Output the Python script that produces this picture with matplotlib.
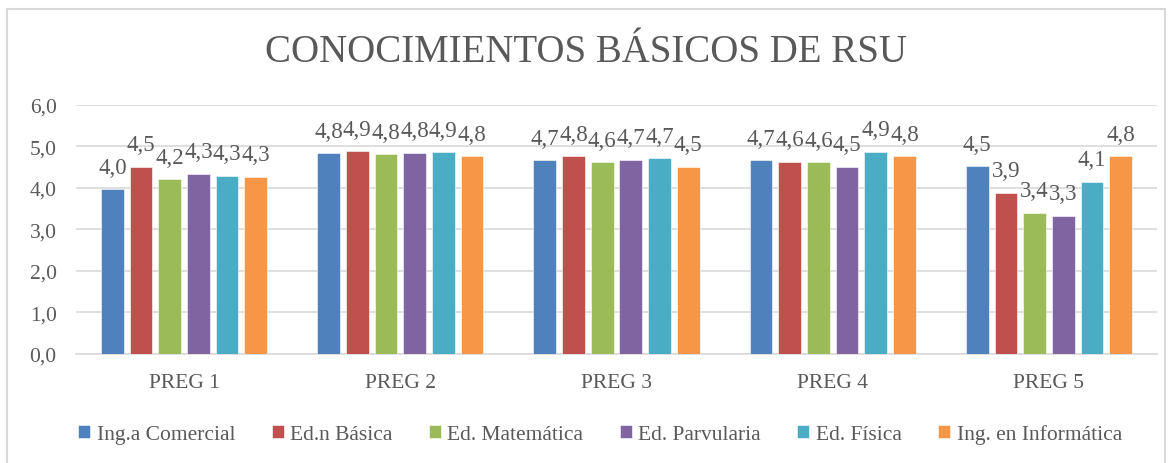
import matplotlib
matplotlib.use("Agg")
import matplotlib.pyplot as plt
import numpy as np
from matplotlib.patches import Rectangle

categories = ["PREG 1", "PREG 2", "PREG 3", "PREG 4", "PREG 5"]
series_names = ["Ing.a Comercial", "Ed.n Básica", "Ed. Matemática",
                "Ed. Parvularia", "Ed. Física", "Ing. en Informática"]
ing_comercial = [3.96, 4.83, 4.66, 4.66, 4.52]
ed_basica = [4.51, 4.88, 4.76, 4.63, 3.88]
ed_matematica = [4.20, 4.81, 4.61, 4.61, 3.40]
ed_parvularia = [4.34, 4.84, 4.67, 4.51, 3.33]
ed_fisica = [4.29, 4.86, 4.71, 4.87, 4.14]
ing_informatica = [4.26, 4.76, 4.51, 4.76, 4.76]
series_values = [ing_comercial, ed_basica, ed_matematica,
                 ed_parvularia, ed_fisica, ing_informatica]
yticks = [0, 1, 2, 3, 4, 5, 6]
title = "CONOCIMIENTOS BÁSICOS DE RSU"

colors = ["#4f81bd", "#c0504d", "#9bbb59", "#8064a2", "#4bacc6", "#f79646"]
text_color = "#595959"
grid_color = "#d9d9d9"
serif = 'Liberation Serif'

plt.rcParams['font.family'] = serif

W, H = 1172, 464
fig = plt.figure(figsize=(W / 100, H / 100), dpi=100)
ax = fig.add_axes([76 / W, 1 - 355 / H, (1157 - 76) / W, (355 - 105.7) / H])

x = np.arange(len(categories))
step = 0.1327
width = 0.105
n = len(series_values)
for i, (name, vals, c) in enumerate(zip(series_names, series_values, colors)):
    pos = x + (i - (n - 1) / 2) * step
    bars = ax.bar(pos, vals, width=width, color=c, label=name, zorder=3,
                  edgecolor="white", linewidth=0.4)
    for b, v in zip(bars, vals):
        ax.annotate(f"{v:.1f}".replace(".", ","),
                    xy=(b.get_x() + b.get_width() / 2, v),
                    xytext=(0, 11.9), textcoords="offset points",
                    ha="center", va="baseline", fontsize=16.5,
                    color=text_color, zorder=4, family=serif)

ax.set_xlim(-0.5, len(categories) - 0.5)
ax.set_ylim(0, 6)
ax.set_yticks(yticks)
ax.set_yticklabels([f"{t:.1f}".replace(".", ",") for t in yticks], family=serif)
ax.set_xticks(x)
ax.set_xticklabels(categories, family=serif)
ax.tick_params(axis="both", length=0, labelsize=15.5, colors=text_color)
ax.tick_params(axis="y", pad=14)
ax.tick_params(axis="x", pad=14)
ax.grid(axis="y", color=grid_color, linewidth=1.2, zorder=0)
for s in ["top", "right", "left"]:
    ax.spines[s].set_visible(False)
ax.spines["bottom"].set_color(grid_color)
ax.spines["bottom"].set_linewidth(1.2)
ax.set_facecolor("none")

fig.text(0.5, 1 - 53 / H, title, ha="center", va="center",
         fontsize=28, color=text_color, family=serif)

leg = fig.legend(loc="center", bbox_to_anchor=(0.512, 1 - 435 / H), ncol=6,
                 frameon=False, prop={'family': serif, 'size': 15.5},
                 handlelength=0.55, handleheight=0.55,
                 handletextpad=0.3, columnspacing=1.7, labelcolor=text_color)

border = Rectangle((7 / W, -0.05), (1165 - 7) / W, 1.05 - 10 / H,
                   transform=fig.transFigure, fill=False,
                   edgecolor=grid_color, linewidth=1.5)
fig.patches.append(border)

fig.savefig("out.png", dpi=100)
